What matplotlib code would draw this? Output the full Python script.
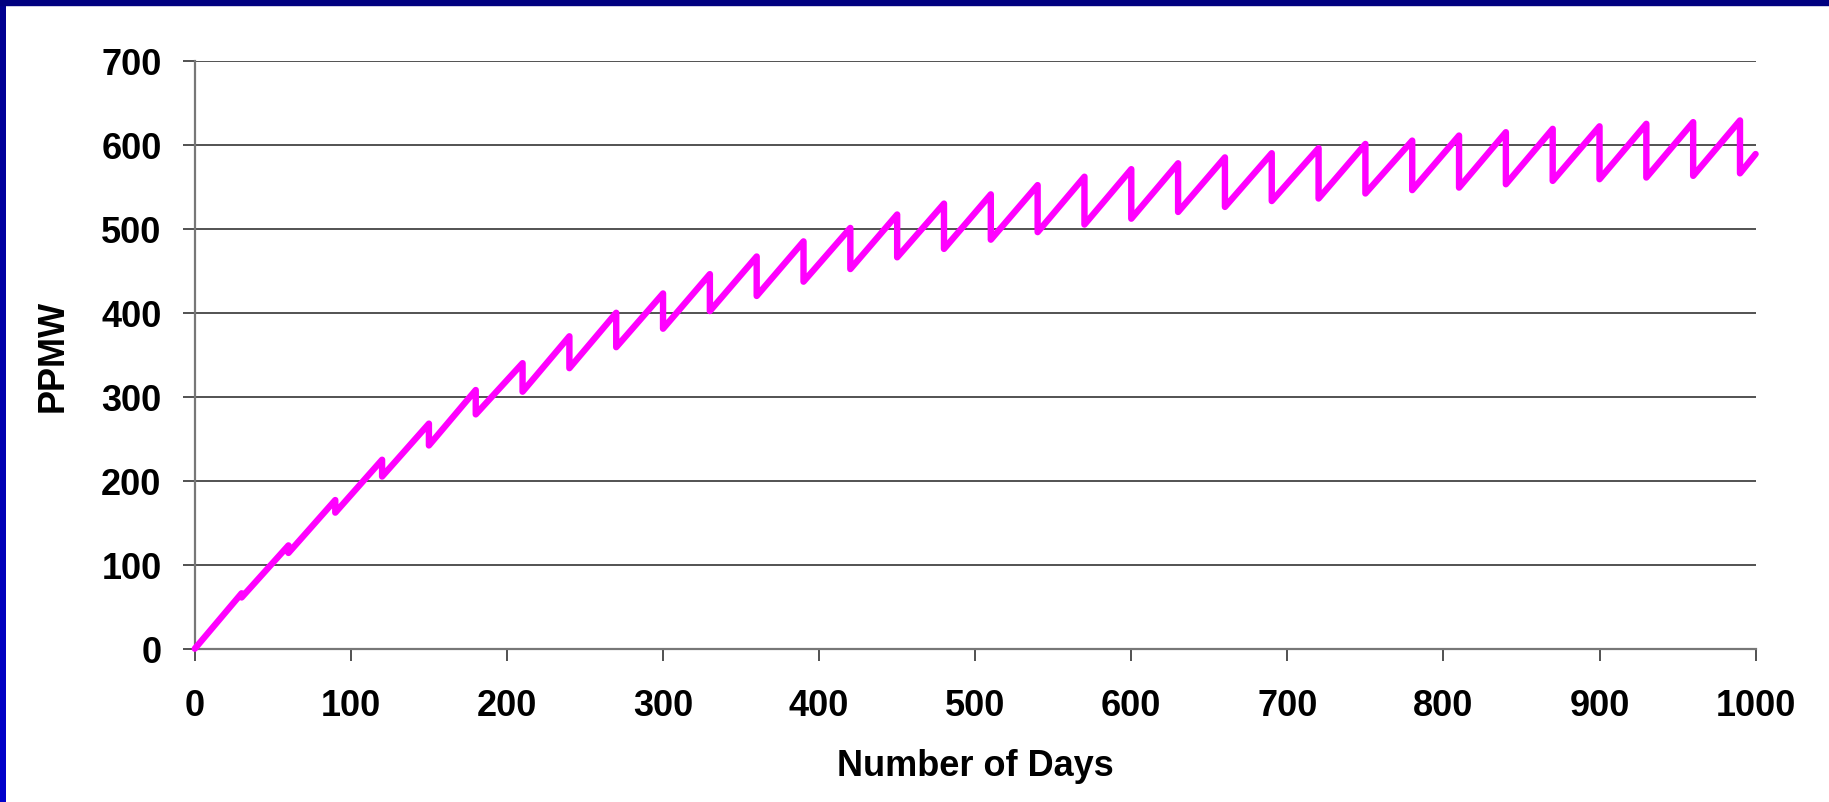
import numpy as np
import matplotlib
matplotlib.use("Agg")
import matplotlib.pyplot as plt
from matplotlib.patches import Rectangle
from matplotlib.colors import LinearSegmentedColormap

# ---- data ----
start_day = 0
start_value = 0
drop_days = [30, 60, 90, 120, 150, 180, 210, 240, 270, 300, 330, 360, 390,
             420, 450, 480, 510, 540, 570, 600, 630, 660, 690, 720, 750,
             780, 810, 840, 870, 900, 930, 960, 990]
peak_values = [66, 123, 177, 225, 268, 308, 340, 372, 400, 423, 446, 467, 485,
               501, 517, 530, 541, 552, 562, 571, 578, 585, 590, 596, 601,
               605, 611, 615, 619, 622, 625, 627, 629]
trough_values = [61, 114, 162, 205, 242, 279, 306, 334, 359, 381, 402, 420, 437,
                 452, 466, 476, 487, 496, 505, 512, 520, 526, 533, 536, 542,
                 546, 549, 553, 557, 559, 561, 563, 566]
end_day = 1000
end_value = 589

x_ticks = [0, 100, 200, 300, 400, 500, 600, 700, 800, 900, 1000]
y_ticks = [0, 100, 200, 300, 400, 500, 600, 700]
x_label = "Number of Days"
y_label = "PPMW"

# build the line
xs = [start_day]
ys = [start_value]
for d, p, t in zip(drop_days, peak_values, trough_values):
    xs += [d, d]
    ys += [p, t]
xs.append(end_day)
ys.append(end_value)

W, H, DPI = 1829, 803, 100
plt.rcParams["font.family"] = ["Liberation Sans", "DejaVu Sans"]
fig = plt.figure(figsize=(W / DPI, H / DPI), dpi=DPI, facecolor="white")

left_px, right_px, top_px, bottom_px = 194.8, 1755.6, 61.8, 649.7
ax = fig.add_axes([left_px / W, 1 - bottom_px / H,
                   (right_px - left_px) / W, (bottom_px - top_px) / H])
ax.set_facecolor("white")

ax.plot(xs, ys, color="#FF00FF", lw=4.6, solid_joinstyle="round",
        solid_capstyle="round", zorder=3, clip_on=False)

ax.set_xlim(0, 1000)
ax.set_ylim(0, 700)
ax.set_xticks(x_ticks)
ax.set_yticks(y_ticks)
ax.set_xticklabels([str(v) for v in x_ticks])
ax.set_yticklabels([str(v) for v in y_ticks])

ax.yaxis.grid(True, color="#444444", lw=1.3, zorder=1)
ax.set_axisbelow(True)
for s in ["top", "right"]:
    ax.spines[s].set_visible(False)
for s in ["left", "bottom"]:
    ax.spines[s].set_color("#777777")
    ax.spines[s].set_linewidth(1.6)

FS = 26
ax.tick_params(axis="both", direction="out", length=8.3, width=1.2,
               color="#333333", labelsize=FS, labelcolor="black")
ax.tick_params(axis="x", pad=20)
ax.tick_params(axis="y", pad=15.6)
for lab in ax.get_xticklabels() + ax.get_yticklabels():
    lab.set_fontweight("bold")

ax.set_xlabel(x_label, fontsize=FS, fontweight="bold", labelpad=18)
ax.set_ylabel(y_label, fontsize=FS, fontweight="bold", labelpad=22)

# blue frame on top and left edges
fig.patches.append(Rectangle((0, 1 - 6 / H), 1, 6 / H, transform=fig.transFigure,
                             color="#000080", zorder=10))
grad_ax = fig.add_axes([0, 0, 6 / W, 1 - 6 / H])
grad_ax.axis("off")
grad = np.linspace(0, 1, 256).reshape(-1, 1)
cmap = LinearSegmentedColormap.from_list("bl", ["#000090", "#0000CC"])
grad_ax.imshow(grad, aspect="auto", cmap=cmap, extent=[0, 1, 0, 1], origin="upper")

fig.savefig("out.png", dpi=DPI, facecolor="white")
